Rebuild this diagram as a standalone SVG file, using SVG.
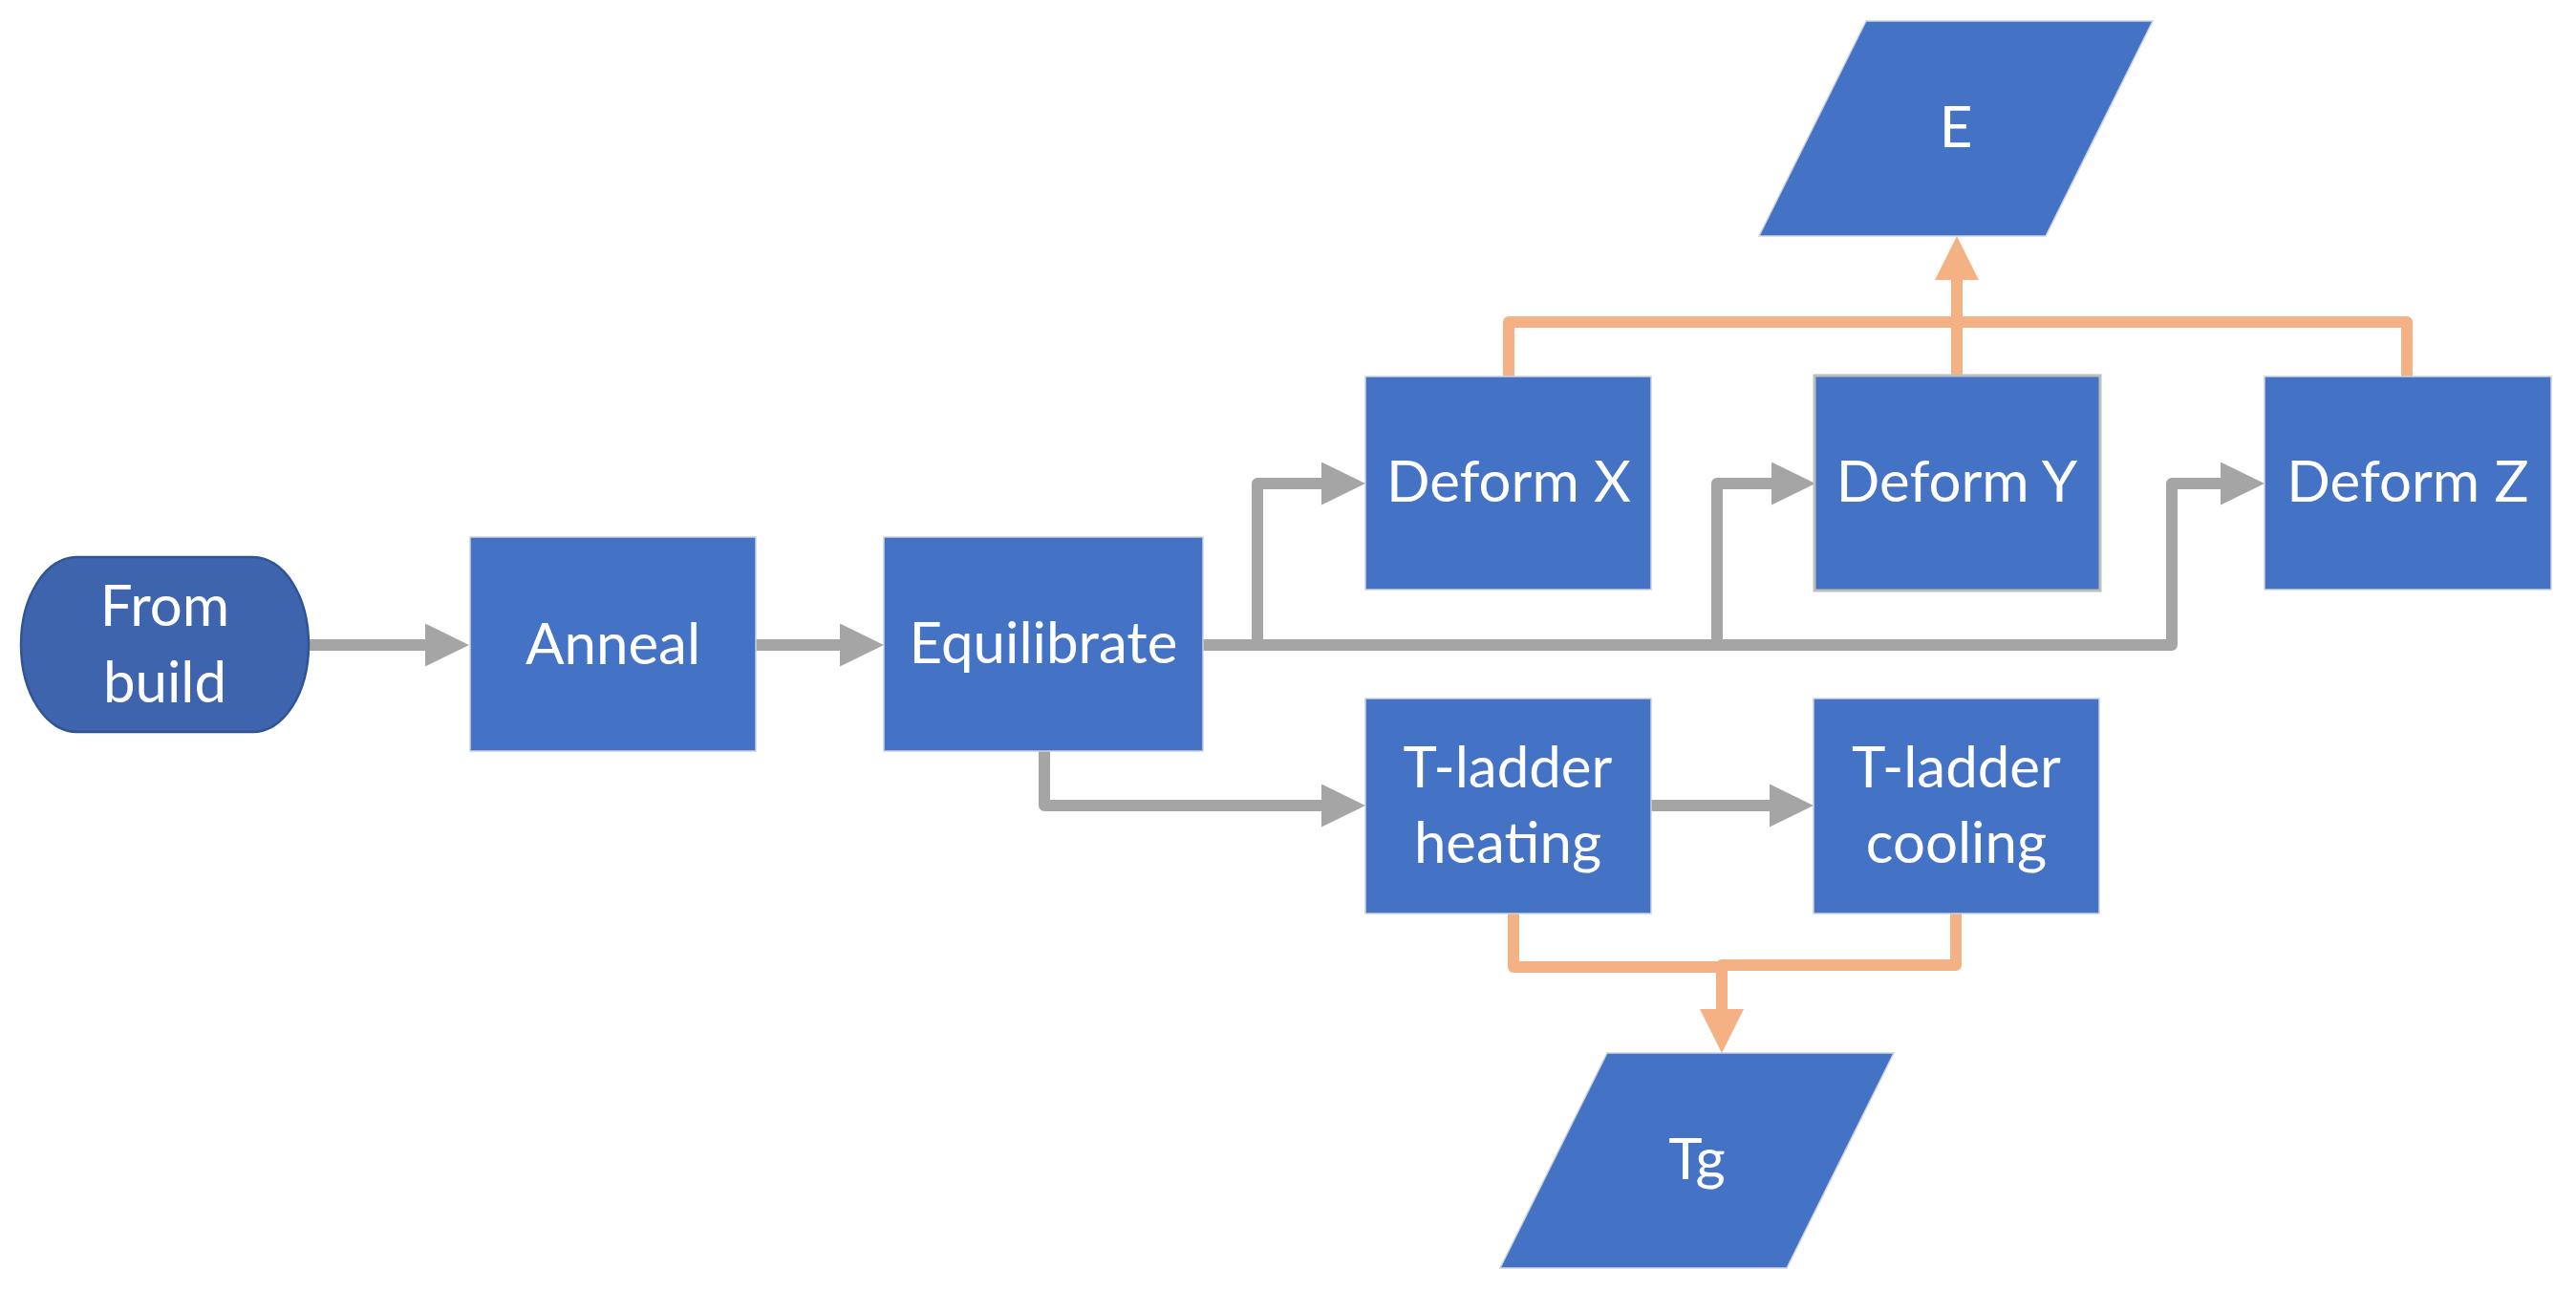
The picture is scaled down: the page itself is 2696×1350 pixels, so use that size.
<svg xmlns="http://www.w3.org/2000/svg" width="2696" height="1350" viewBox="0 0 2696 1350">
  <style>
    .box { fill: #4472C4; stroke: #CDD2DB; stroke-width: 1.5; }
    .term { fill: #3E64AD; stroke: #2F5597; stroke-width: 2.5; }
    .lbl { font-family: Lato, "Open Sans", "Liberation Sans", sans-serif; font-size: 60px; fill: #FFFFFF; text-anchor: middle; }
    .grey { fill: none; stroke: #A5A5A5; stroke-width: 12; stroke-linecap: round; stroke-linejoin: round; }
    .orange { fill: none; stroke: #F4B183; stroke-width: 12; stroke-linecap: round; stroke-linejoin: round; }
  </style>
  <defs>
    <marker id="ag" markerUnits="userSpaceOnUse" markerWidth="47" markerHeight="46" refX="0" refY="22.5" orient="auto" viewBox="0 0 47 46">
      <path d="M0,0 L46,22.5 L0,45 z" fill="#A5A5A5"/>
    </marker>
    <marker id="ao" markerUnits="userSpaceOnUse" markerWidth="47" markerHeight="46" refX="0" refY="23" orient="auto" viewBox="0 0 47 46">
      <path d="M0,0 L46,23 L0,46 z" fill="#F4B183"/>
    </marker>
  </defs>
  <rect width="2696" height="1350" fill="#FFFFFF"/>

  <g id="connectors">
    <path class="grey" d="M319,675 H445" marker-end="url(#ag)"/>
    <path class="grey" d="M786,675 H879" marker-end="url(#ag)"/>
    <path class="grey" d="M1253,675 H2273 V506 H2324" marker-end="url(#ag)"/>
    <path class="grey" d="M1316,675 V506 H1383" marker-end="url(#ag)"/>
    <path class="grey" d="M1797,675 V506 H1854" marker-end="url(#ag)"/>
    <path class="grey" d="M1093,782 V843 H1383" marker-end="url(#ag)"/>
    <path class="grey" d="M1724,843 H1852" marker-end="url(#ag)"/>
    <path class="orange" d="M1579,393 V337 H2519 V393"/>
    <path class="orange" d="M2048,393 V293" marker-end="url(#ao)"/>
    <path class="orange" d="M1584,952 V1012 H1802 V1056" marker-end="url(#ao)"/>
    <path class="orange" d="M2047,952 V1010 H1802"/>
  </g>

  <g id="from-build">
    <rect class="term" x="22" y="583" width="301" height="183" rx="58" ry="91.5"/>
    <text class="lbl" x="172.5" y="655">From</text>
    <text class="lbl" x="172.5" y="735">build</text>
  </g>
  <g id="anneal">
    <rect class="box" x="492" y="562" width="299" height="224"/>
    <text class="lbl" x="641.5" y="695">Anneal</text>
  </g>
  <g id="equilibrate">
    <rect class="box" x="925" y="562" width="334" height="224"/>
    <text class="lbl" x="1092" y="694">Equilibrate</text>
  </g>
  <g id="deform-x">
    <rect class="box" x="1429" y="394" width="299" height="223"/>
    <text class="lbl" x="1579" y="525">Deform X</text>
  </g>
  <g id="deform-y">
    <rect class="box" x="1899" y="393" width="299" height="225" style="stroke:#BDBDBD;stroke-width:3"/>
    <text class="lbl" x="2048" y="525">Deform Y</text>
  </g>
  <g id="deform-z">
    <rect class="box" x="2370" y="394" width="300" height="223"/>
    <text class="lbl" x="2520" y="525">Deform Z</text>
  </g>
  <g id="t-ladder-heating">
    <rect class="box" x="1429" y="731" width="299" height="225"/>
    <text class="lbl" x="1578" y="824">T-ladder</text>
    <text class="lbl" x="1578" y="903">heating</text>
  </g>
  <g id="t-ladder-cooling">
    <rect class="box" x="1898" y="731" width="299" height="225"/>
    <text class="lbl" x="2047.5" y="824">T-ladder</text>
    <text class="lbl" x="2047.5" y="903">cooling</text>
  </g>
  <g id="e">
    <polygon class="box" points="1953,22 2253,22 2141,247 1841,247"/>
    <text class="lbl" x="2047" y="154">E</text>
  </g>
  <g id="tg">
    <polygon class="box" points="1682,1102 1982,1102 1870,1327 1570,1327"/>
    <text class="lbl" x="1776" y="1234">Tg</text>
  </g>
</svg>
